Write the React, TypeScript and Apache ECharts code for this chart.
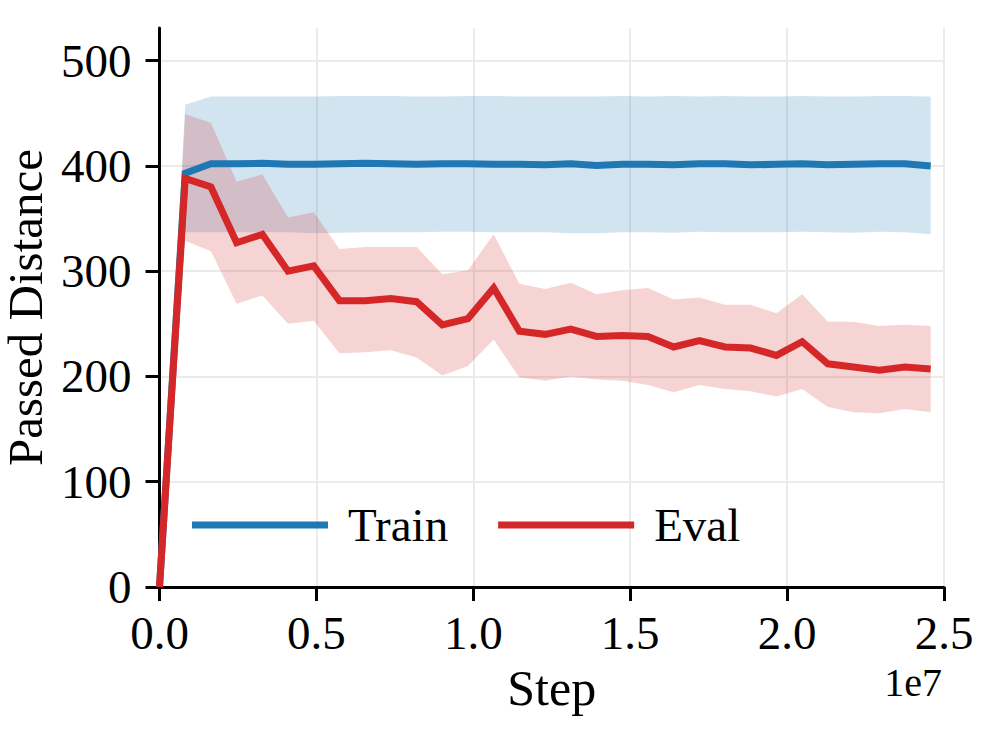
import { useEffect, useRef } from "react";
import * as echarts from "echarts";

// Training steps at which both curves were logged
const steps = [
  0, 819200, 1638400, 2457600, 3276800, 4096000, 4915200, 5734400, 6553600, 7372800,
  8192000, 9011200, 9830400, 10649600, 11468800, 12288000, 13107200, 13926400, 14745600,
  15564800, 16384000, 17203200, 18022400, 18841600, 19660800, 20480000, 21299200,
  22118400, 22937600, 23756800, 24576000,
];

// Train: mean passed distance and its shaded band
const trainMean = [
  0, 393, 402, 402, 402.5, 401.5, 401.5, 402, 402.5, 402, 401.5, 402, 402, 401.5, 401.5,
  401, 402, 400.5, 401.5, 401.5, 401, 402, 402, 401, 401.5, 402, 401, 401.5, 402, 402, 400,
];
const trainUpper = [
  0, 458, 466, 466, 466, 466, 466, 466.5, 466.5, 466.5, 466, 466, 466.5, 466.5, 466, 466,
  466, 466, 466.5, 466, 466.5, 466, 466.5, 466, 466, 466.5, 466, 466, 466.5, 466.5, 466,
];
const trainLower = [
  0, 337, 337, 337, 337, 337, 336, 336.5, 337, 337, 337, 337.5, 337.5, 337, 337, 337, 336,
  336, 337, 337, 336.5, 337.5, 337, 337, 337, 337.5, 337, 336.5, 337.5, 337, 335,
];

// Eval: mean passed distance and its shaded band
const evalMean = [
  0, 388, 380, 327, 335, 300, 305, 272, 272, 274, 271, 249, 255, 284, 243, 240, 245, 238,
  239, 238, 228, 234, 228, 227, 220, 233, 212, 209, 206, 209, 207,
];
const evalUpper = [
  0, 449, 441, 385, 392, 351, 356, 321, 323, 323, 323, 297, 301, 335, 288, 283, 289, 278,
  282, 284, 273, 275, 268, 268, 260, 278, 252, 252, 248, 249, 248,
];
const evalLower = [
  0, 329, 319, 269, 277, 250, 253, 222, 223, 225, 218, 201, 210, 235, 199, 196, 200, 197,
  196, 192, 185, 192, 188, 186, 181, 188, 171, 166, 165, 169, 166,
];

const yTicks = [0, 100, 200, 300, 400, 500];

const FONT = "'Liberation Serif', 'Times New Roman', serif";
const BLUE = "#1f77b4";
const RED = "#d62728";
const GRID = "#ebebeb";

function band(name: string, upper: number[], lower: number[], fill: string, z: number) {
  return {
    type: "custom",
    name,
    silent: true,
    z,
    clip: true,
    encode: { x: 0, y: [1, 2] },
    data: steps.map((s, i) => [s, upper[i], lower[i]]),
    renderItem: (params: any, api: any) => {
      if (params.dataIndex !== 0) return null;
      const pts: number[][] = [];
      for (let i = 0; i < steps.length; i++) pts.push(api.coord([steps[i], upper[i]]));
      for (let i = steps.length - 1; i >= 0; i--) pts.push(api.coord([steps[i], lower[i]]));
      return { type: "polygon", shape: { points: pts }, style: { fill }, silent: true };
    },
  };
}

function meanLine(name: string, values: number[], color: string, z: number) {
  return {
    type: "line",
    name,
    z,
    color,
    showSymbol: false,
    symbol: "none",
    lineStyle: { color, width: 7, cap: "butt", join: "miter" },
    data: steps.map((s, i) => [s, values[i]]),
  };
}

export default function App() {
  const ref = useRef<HTMLDivElement>(null);

  useEffect(() => {
    document.body.style.margin = "0";
    if (!ref.current) return;
    const chart = echarts.init(ref.current, null, { renderer: "svg" });
    chart.setOption({
      animation: false,
      backgroundColor: "#ffffff",
      textStyle: { fontFamily: FONT },
      grid: {
        left: 159.5,
        right: 58,
        top: 28,
        bottom: 163,
        containLabel: false,
        outerBoundsMode: "none",
      },
      legend: {
        data: ["Train", "Eval"],
        left: 192,
        top: 500,
        padding: 0,
        icon: "rect",
        itemWidth: 136,
        itemHeight: 7,
        itemGap: 50,
        textStyle: {
          fontFamily: FONT,
          fontSize: 47,
          color: "#000",
          lineHeight: 50,
          padding: [0, 0, 0, 15],
        },
      },
      xAxis: {
        type: "value",
        min: 0,
        max: 25000000,
        interval: 5000000,
        name: "Step",
        nameLocation: "middle",
        nameGap: 76,
        nameTextStyle: { fontFamily: FONT, fontSize: 50, color: "#000" },
        axisLine: { show: true, lineStyle: { color: "#000", width: 3 } },
        axisTick: { show: true, inside: false, length: 14, lineStyle: { color: "#000", width: 3 } },
        axisLabel: {
          margin: 22,
          fontFamily: FONT,
          fontSize: 47,
          color: "#000",
          formatter: (v: number) => (v / 1e7).toFixed(1),
        },
        splitLine: { show: true, lineStyle: { color: GRID, width: 2 } },
      },
      yAxis: {
        type: "value",
        min: 0,
        max: 531,
        name: "Passed Distance",
        nameLocation: "middle",
        nameGap: 108,
        nameTextStyle: { fontFamily: FONT, fontSize: 49, lineHeight: 46, color: "#000" },
        axisLine: { show: true, lineStyle: { color: "#000", width: 3 } },
        axisTick: {
          show: true,
          inside: false,
          length: 14,
          customValues: yTicks,
          lineStyle: { color: "#000", width: 3 },
        },
        axisLabel: {
          margin: 28,
          fontFamily: FONT,
          fontSize: 47,
          color: "#000",
          customValues: yTicks,
        },
        splitLine: { show: true, lineStyle: { color: GRID, width: 2 } },
      },
      graphic: [
        {
          type: "text",
          right: 60,
          top: 662,
          style: { text: "1e7", font: `40px ${FONT}`, fill: "#000" },
        },
      ],
      series: [
        band("Train band", trainUpper, trainLower, "rgba(31,119,180,0.2)", 1),
        band("Eval band", evalUpper, evalLower, "rgba(214,39,40,0.2)", 2),
        meanLine("Train", trainMean, BLUE, 3),
        meanLine("Eval", evalMean, RED, 4),
      ],
    });
    return () => chart.dispose();
  }, []);

  return <div ref={ref} style={{ width: 1002, height: 750 }} />;
}
